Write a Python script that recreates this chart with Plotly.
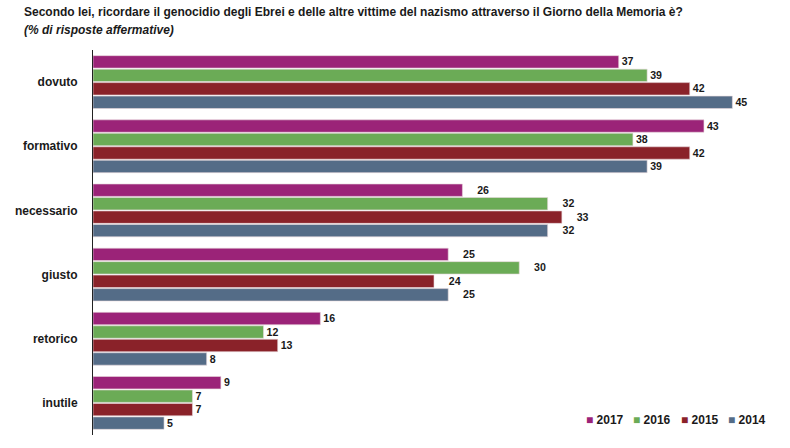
import plotly.graph_objects as go

categories = ["dovuto", "formativo", "necessario", "giusto", "retorico", "inutile"]
years = ["2017", "2016", "2015", "2014"]
values_2017 = [37, 43, 26, 25, 16, 9]
values_2016 = [39, 38, 32, 30, 12, 7]
values_2015 = [42, 42, 33, 24, 13, 7]
values_2014 = [45, 39, 32, 25, 8, 5]
colors = ["#9B2378", "#6BAB56", "#8A2229", "#546C87"]
wide_label_cats = ["necessario", "giusto"]

series = [values_2017, values_2016, values_2015, values_2014]

FONT = "Liberation Sans, Arial, sans-serif"
PLOT_L, PLOT_W = 93, 682

fig = go.Figure()
for name, vals, col in zip(years, series, colors):
    texts = [("\u00a0\u00a0\u00a0\u00a0" if c in wide_label_cats else "") + str(v)
             for c, v in zip(categories, vals)]
    fig.add_trace(go.Bar(
        y=categories, x=vals, name=name, orientation="h",
        marker=dict(color=col, line=dict(width=0.6, color="#E8D8DC")),
        text=texts, textposition="outside", cliponaxis=False,
        textfont=dict(family=FONT, size=12, color="#1a1a1a", weight="bold"),
        showlegend=False,
    ))

# custom compact legend as text annotations
legend_x_px = [584, 631, 679, 726]
annotations = []
for name, col, px in zip(years, colors, legend_x_px):
    annotations.append(dict(
        text=f"<span style='color:{col}'>■</span> {name}",
        xref="paper", yref="paper", x=(px - PLOT_L) / PLOT_W, y=(448 - 13 - 420) / 385,
        xanchor="left", yanchor="middle", showarrow=False,
        font=dict(family=FONT, size=12, color="#1a1a1a", weight="bold"),
    ))

annotations += [
    dict(text="Secondo lei, ricordare il genocidio degli Ebrei e delle altre vittime del nazismo attraverso il Giorno della Memoria è?",
         xref="paper", yref="paper", x=-PLOT_L / PLOT_W, y=1, yshift=38, xshift=22,
         xanchor="left", yanchor="middle", showarrow=False,
         font=dict(family=FONT, size=12, color="#1a1a1a", weight="bold")),
    dict(text="<i>(% di risposte affermative)</i>",
         xref="paper", yref="paper", x=-PLOT_L / PLOT_W, y=1, yshift=20, xshift=22,
         xanchor="left", yanchor="middle", showarrow=False,
         font=dict(family=FONT, size=12, color="#1a1a1a", weight="bold")),
]

fig.update_layout(
    width=790, height=448,
    margin=dict(l=PLOT_L, r=790 - PLOT_L - PLOT_W, t=50, b=13),
    paper_bgcolor="white", plot_bgcolor="white",
    barmode="group", bargap=0.16, bargroupgap=0.08,
    showlegend=False,
    xaxis=dict(range=[0, 48], visible=False, fixedrange=True),
    yaxis=dict(autorange="reversed", showline=True, linecolor="#222", linewidth=1,
               showgrid=False, ticks="", ticklabelstandoff=12,
               tickfont=dict(family=FONT, size=12, color="#1a1a1a", weight="bold")),
    annotations=annotations,
)

fig.write_html("out.html")
